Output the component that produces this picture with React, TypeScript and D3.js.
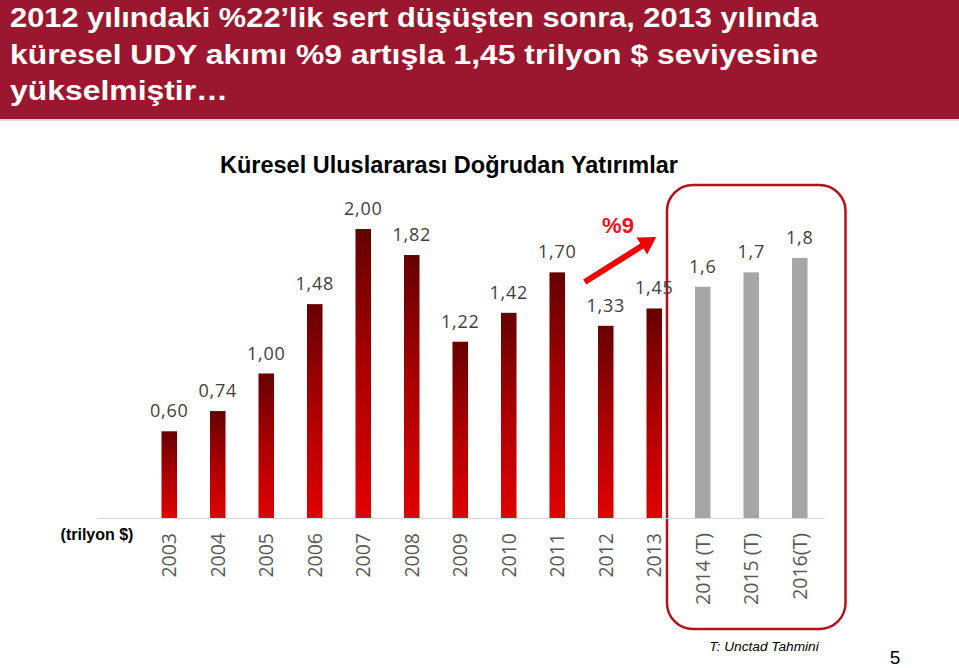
import * as d3 from "d3";

const years = ["2003", "2004", "2005", "2006", "2007", "2008", "2009", "2010", "2011", "2012", "2013", "2014 (T)", "2015 (T)", "2016(T)"];
const values = [0.6, 0.74, 1.0, 1.48, 2.0, 1.82, 1.22, 1.42, 1.7, 1.33, 1.45, 1.6, 1.7, 1.8];
const valueLabels = ["0,60", "0,74", "1,00", "1,48", "2,00", "1,82", "1,22", "1,42", "1,70", "1,33", "1,45", "1,6", "1,7", "1,8"];
const forecast = [false, false, false, false, false, false, false, false, false, false, false, true, true, true];
const headerLines = [
  "2012 yılındaki %22’lik sert düşüşten sonra, 2013 yılında",
  "küresel UDY akımı %9 artışla 1,45 trilyon $ seviyesine",
  "yükselmiştir…",
];
const headerWidths = [808, 808, 218];

const W = 959;
const H = 668;

export default function App() {
  const baseY = 518;
  const x = d3.scaleBand<string>().domain(years).range([145, 824]).paddingInner(0.68).paddingOuter(0.34);
  const y = d3.scaleLinear().domain([0, 2]).range([baseY, 229]);

  // arrow from 2012 bar towards 2013, drawn as a polygon
  const ax0 = x("2012")! + x.bandwidth() / 2 - 21;
  const ay0 = 282;
  const ax1 = x("2013")! + x.bandwidth() / 2 + 2;
  const ay1 = 237;
  const ang = Math.atan2(ay1 - ay0, ax1 - ax0);
  const len = Math.hypot(ax1 - ax0, ay1 - ay0);
  const headLen = 17;
  const headW = 10;
  const shaftW = 3;
  const arrowPts: [number, number][] = [
    [0, -shaftW], [len - headLen, -shaftW], [len - headLen, -headW], [len, 0],
    [len - headLen, headW], [len - headLen, shaftW], [0, shaftW],
  ];
  const arrowPath = d3.line()(arrowPts)! + "Z";

  const boxLeft = x("2014 (T)")! - 28;
  const boxRight = x("2016(T)")! + x.bandwidth() + 38;

  return (
    <div style={{ position: "absolute", left: 0, top: 0 }}>
      <svg width={W} height={H} style={{ display: "block", background: "#fff" }}>
        <defs>
          <linearGradient id="redbar" x1="0" y1="0" x2="0" y2="1">
            <stop offset="0" stopColor="#660000" />
            <stop offset="0.5" stopColor="#ac0000" />
            <stop offset="1" stopColor="#e00000" />
          </linearGradient>
        </defs>

        {/* header band */}
        <rect x={0} y={0} width={W} height={119} fill="#9b1730" />
        <line x1={0} x2={W} y1={120} y2={120} stroke="#d8c8cc" strokeWidth={1.5} />
        <g fill="#fff" fontFamily="'Liberation Sans', Arial, sans-serif" fontWeight="bold" fontSize={28}>
          {headerLines.map((t, i) => (
            <text key={i} x={10} y={27 + i * 36.5} textLength={headerWidths[i]} lengthAdjust="spacingAndGlyphs">{t}</text>
          ))}
        </g>

        <text x={449} y={173} textAnchor="middle" fontFamily="'Liberation Sans', Arial, sans-serif" fontWeight="bold" fontSize={23.5} fill="#000">
          Küresel Uluslararası Doğrudan Yatırımlar
        </text>

        {/* forecast box */}
        <rect x={boxLeft} y={185} width={boxRight - boxLeft} height={444} rx={26} ry={26} fill="none" stroke="#b3121b" strokeWidth={2.5} />

        {/* axis line */}
        <line x1={97} x2={825} y1={baseY + 0.5} y2={baseY + 0.5} stroke="#d9d9d9" strokeWidth={1} />

        {/* bars */}
        {years.map((yr, i) => (
          <rect
            key={yr}
            x={x(yr)}
            y={y(values[i])}
            width={x.bandwidth()}
            height={baseY - y(values[i])}
            fill={forecast[i] ? "#a6a6a6" : "url(#redbar)"}
          />
        ))}

        {/* value labels */}
        <g fontFamily="'Open Sans', sans-serif" fontSize={18} fill="#404040" textAnchor="middle" letterSpacing={0.8}>
          {years.map((yr, i) => (
            <text key={yr} x={x(yr)! + x.bandwidth() / 2} y={y(values[i]) - 14}>{valueLabels[i]}</text>
          ))}
        </g>

        {/* category labels */}
        <g fontFamily="'Open Sans', sans-serif" fontSize={19.5} fill="#595959" textAnchor="end">
          {years.map((yr) => {
            const cx = x(yr)! + x.bandwidth() / 2 + 7;
            return (
              <text key={yr} transform={`translate(${cx},533) rotate(-90)`}>{yr}</text>
            );
          })}
        </g>

        {/* growth arrow */}
        <path d={arrowPath} transform={`translate(${ax0},${ay0}) rotate(${(ang * 180) / Math.PI})`} fill="#f00000" />
        <text x={618} y={233} textAnchor="middle" fontFamily="'Liberation Sans', Arial, sans-serif" fontWeight="bold" fontSize={22} fill="#e8141b">%9</text>

        <text x={97} y={540} textAnchor="middle" fontFamily="'Liberation Sans', Arial, sans-serif" fontWeight="bold" fontSize={16} fill="#000">(trilyon $)</text>
        <text x={764} y={651} textAnchor="middle" fontFamily="'Liberation Sans', Arial, sans-serif" fontStyle="italic" fontSize={13.7} fill="#000">T: Unctad Tahmini</text>
        <text x={895} y={664} textAnchor="middle" fontFamily="'Liberation Sans', Arial, sans-serif" fontSize={19} fill="#000">5</text>
      </svg>
    </div>
  );
}
